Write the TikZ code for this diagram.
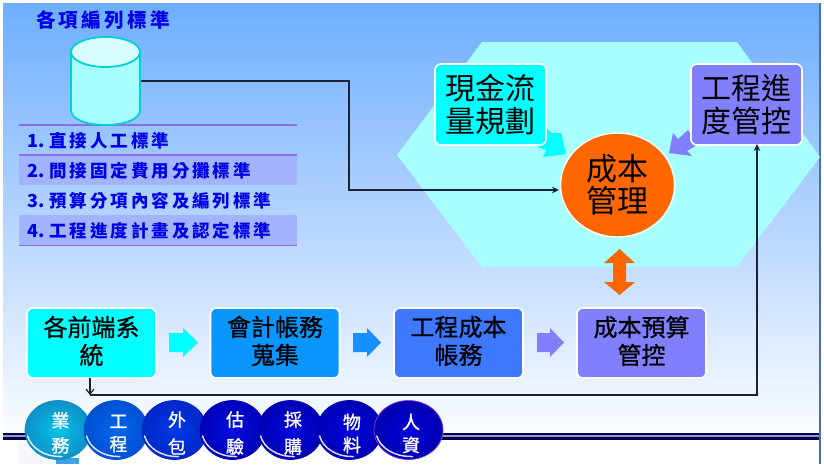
\documentclass[tikz,border=0pt]{standalone}
\usepackage{fontspec}
\usetikzlibrary{shapes.geometric,arrows.meta}
\setmainfont{Noto Sans CJK TC}
\newfontfamily\medfont[FakeBold=0.8]{Noto Sans CJK TC}
\newfontfamily\ballfont[FakeBold=1.2]{Noto Sans CJK TC}
\newfontfamily\bluefont[LetterSpace=17]{Noto Sans CJK TC}
\newfontfamily\bluedigit{Noto Sans CJK TC}
\newcommand{\rownum}[1]{\hbox to 22pt{\bluedigit\bfseries\fontsize{18}{18}\selectfont #1\hfil}}
\definecolor{bgtop}{HTML}{6EAEFF}
\definecolor{bgmid}{HTML}{B4D4FF}
\definecolor{bgbot}{HTML}{FBFDFF}
\definecolor{hexc}{HTML}{A8FFFF}
\definecolor{cyanb}{HTML}{00FFFF}
\definecolor{blueb}{HTML}{0A96FF}
\definecolor{royalb}{HTML}{3D78FF}
\definecolor{violb}{HTML}{8080FF}
\definecolor{orangeb}{HTML}{FF6600}
\definecolor{rowc}{HTML}{A3B4FF}
\definecolor{rulec}{HTML}{8A6CF0}
\definecolor{bluet}{HTML}{0000E6}
\definecolor{navy}{HTML}{000055}
\definecolor{linec}{HTML}{1A2233}
\definecolor{cylline}{HTML}{00D0D0}
\definecolor{cyltop}{HTML}{D8FFFF}
\definecolor{edge}{HTML}{4F6F9F}
\definecolor{offwhite}{HTML}{F6F7FA}
\definecolor{fragc}{HTML}{3FA2E6}
\tikzset{
  x=1pt,y=-1pt,
  box/.style={draw=white,line width=1.6pt,rounded corners=6pt,inner sep=0pt,text=black,align=center},
  bigbox/.style={box,minimum width=111pt,minimum height=81pt,font=\fontsize{30}{33}\selectfont},
  lowbox/.style={box,minimum width=129pt,minimum height=70pt},
  lowtext/.style={inner sep=0pt,align=center,text=black,font=\medfont\fontsize{24}{28}\selectfont},
  rowtext/.style={anchor=west,inner sep=0pt,text=bluet,font=\bluefont\bfseries\fontsize{17.5}{18}\selectfont},
  rulel/.style={draw=rulec,line width=1.2pt},
  conn/.style={draw=linec,line width=1.4pt,-{Stealth[length=7pt,width=6.5pt]}},
  ball/.style={ellipse,inner sep=0pt,minimum height=59pt},
  balltext/.style={inner sep=0pt,align=center,text=white}
}
\begin{document}
\begin{tikzpicture}
\useasboundingbox (0,0) rectangle (824,464);
\fill[white] (0,0) rectangle (824,464);
% background
\shade[top color=bgtop,bottom color=bgmid] (3,3) rectangle (819,217);
\shade[top color=bgmid,bottom color=bgbot] (3,217) rectangle (819,433);
\fill[edge] (819,3) rectangle (821,464);
% hexagon
\fill[hexc] (397,155) -- (482,42) -- (737,42) -- (820,157) -- (737,267) -- (482,267) -- cycle;
% list rows
\fill[rowc] (19,155) rectangle (297,185);
\fill[rowc] (19,215) rectangle (297,245);
\draw[rulel] (19,125) -- (297,125);
\draw[rulel] (19,155) -- (297,155);
\draw[rulel] (19,245.5) -- (297,245.5);
\node[rowtext,font=\bluefont\bfseries\fontsize{19.5}{20}\selectfont] (title) at (36,20) {各項編列標準};
\node[rowtext] (r1) at (27,141) {\rownum{1.}直接人工標準};
\node[rowtext] (r2) at (27,171) {\rownum{2.}間接固定費用分攤標準};
\node[rowtext] (r3) at (27,201) {\rownum{3.}預算分項內容及編列標準};
\node[rowtext] (r4) at (27,231) {\rownum{4.}工程進度計畫及認定標準};
% database cylinder
\filldraw[draw=cylline,line width=1.8pt,fill=hexc] (71,52) -- (71,110) .. controls (71,130) and (140,130) .. (140,110) -- (140,52) -- cycle;
\node[ellipse,draw=cylline,line width=1.8pt,fill=cyltop,minimum width=69pt,minimum height=30pt,inner sep=0pt] (cyl) at (105.5,52) {};
% fat arrows into the cost circle
\fill[cyanb] (547,129) -- (552,133) -- (561,133) -- (566,154) -- (543,157) -- (546,150) -- (538,147) -- cycle;
\fill[violb] (688,130) -- (678,139) -- (673,133) -- (669,153) -- (692,156) -- (687,151) -- (697,145) -- cycle;
% upper boxes and circle
\node[bigbox,fill=cyanb] (cash) at (490.5,104.5) {現金流\\量規劃};
\node[bigbox,fill=violb] (prog) at (746.5,104.5) {工程進\\度管控};
\node[ellipse,draw=white,line width=1.4pt,fill=orangeb,minimum width=114pt,minimum height=104pt,inner sep=0pt,
  align=center,font=\fontsize{31}{32}\selectfont] (cost) at (617.5,185) {成本\\管理};
% double arrow
\fill[orangeb] (619.5,249) -- (635,263) -- (626,263) -- (626,282) -- (635,282) -- (619.5,295) -- (604,282) -- (613,282) -- (613,263) -- (604,263) -- cycle;
% lower boxes
\node[lowbox,fill=cyanb] (front) at (91.5,343) {};
\node[lowbox,fill=blueb] (acc) at (275,343) {};
\node[lowbox,fill=royalb] (eng) at (458.5,343) {};
\node[lowbox,fill=violb] (bud) at (641.5,343) {};
\node[lowtext] (frontt) at (91.5,341) {各前端系\\統};
\node[lowtext] (acct) at (275,341) {會計帳務\\蒐集};
\node[lowtext] (engt) at (458.5,341) {工程成本\\帳務};
\node[lowtext] (budt) at (641.5,341) {成本預算\\管控};
% block arrows
\fill[cyanb] (169,333) -- (183,333) -- (183,328) -- (198,342.5) -- (183,357) -- (183,352) -- (169,352) -- cycle;
\fill[blueb!75!royalb] (353,333) -- (367,333) -- (367,328) -- (381,342.5) -- (367,357) -- (367,352) -- (353,352) -- cycle;
\fill[violb] (537,333) -- (550,333) -- (550,328) -- (564,342.5) -- (550,357) -- (550,352) -- (537,352) -- cycle;
% connectors
\coordinate (cylout) at (141,81);
\coordinate (b1) at (349,81);
\coordinate (cin) at (559,190);
\coordinate (junc) at (90,395);
\coordinate (b2) at (757,395);
\coordinate (progin) at (757,144);
\coordinate (fout) at (90,378);
\draw[conn] (cylout) -- (b1) |- (cin);
\draw[draw=linec,line width=1.2pt,-{Straight Barb[length=5pt,width=8pt]}] (fout) -- (junc);
\draw[conn] (junc) -- (b2) -- (progin);
% bottom rule
\fill[navy] (3,432.5) rectangle (819,440);
\fill[white!60!navy] (3,435) rectangle (819,436.5);
\fill[offwhite] (18,441) rectangle (80,464);
\fill[fragc] (56,458) rectangle (79,464);
% ellipses
\foreach \nm/\cx/\rx/\inn/\out/\rim/\a/\b/\p/\ty in {
  sales/58/33/00C4E8/0E8FC8/0E8FC8/業/務/25/433,
  engi/116/32/0066EE/0050D0/0050D0/工/程/23/433.5,
  outs/174.5/32.5/0038E8/0028C8/0028C8/外/包/27/433,
  valu/232.5/32.5/0010E0/0000B8/0000B8/估/驗/27/433,
  purc/290.5/32.5/0008DC/0000B4/0000B4/採/購/27/433,
  mate/349.5/32.5/0004DC/0000B4/0000B4/物/料/23/433.5,
  hres/408.5/34.5/0000DC/0000B0/8833EE/人/資/23/433.5}{
  \definecolor{ci}{HTML}{\inn}\definecolor{co}{HTML}{\out}\definecolor{cr}{HTML}{\rim}
  \node[ball,inner color=ci,outer color=co,draw=cr,line width=.7pt,minimum width=2*\rx pt] (\nm) at (\cx,430) {};
  \pgfmathsetmacro\tx{\cx+2.5}
  \node[balltext,font=\ballfont\fontsize{18}{\p}\selectfont] (\nm t) at (\tx,\ty) {\a\\\b};
  \pgfmathsetmacro\xa{\cx-.92*\rx}\pgfmathsetmacro\xb{\cx-.82*\rx}\pgfmathsetmacro\xc{\cx-.40*\rx}
  \pgfmathsetmacro\xd{\cx+.12*\rx}
  \draw[white,opacity=.85,line width=1.5pt,line cap=round] (\xa,436) .. controls (\xb,448) and (\xc,457) .. (\xd,456.5);
}
\end{tikzpicture}
\end{document}
